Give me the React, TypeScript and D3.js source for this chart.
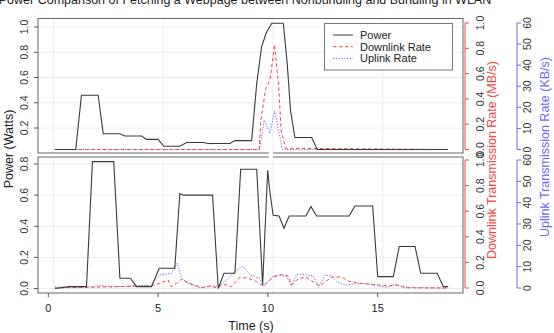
import React from "react";
import * as d3 from "d3";

// Nonbundling (upper panel)
const nbPowerTime = [0.3, 1.25, 1.51, 2.27, 2.5, 3.26, 3.49, 4.25, 4.47, 5.0, 5.26, 5.99, 6.3, 7.05, 7.28, 8.27, 8.5, 9.26, 9.49, 9.71, 9.94, 10.18, 10.7, 10.88, 11.03, 11.23, 11.99, 12.25, 18.2];
const nbPower = [0.03, 0.03, 0.46, 0.46, 0.155, 0.155, 0.137, 0.137, 0.11, 0.11, 0.055, 0.055, 0.085, 0.085, 0.077, 0.077, 0.1, 0.1, 0.55, 0.84, 0.96, 1.03, 1.03, 0.71, 0.34, 0.125, 0.125, 0.03, 0.03];
const nbDownTime = [0.3, 9.6, 9.68, 9.9, 10.1, 10.3, 10.49, 10.6, 10.8, 18.2];
const nbDown = [0, 0, 0.23, 0.48, 0.55, 0.83, 0.5, 0.154, 0.01, 0];
const nbUpTime = [0.3, 9.62, 9.71, 9.83, 10.09, 10.31, 10.51, 10.66, 18.2];
const nbUp = [0, 0, 6, 14, 7.7, 18.4, 7.7, 0, 0];

// Bundling (lower panel)
const bPowerTime = [0.3, 0.98, 1.74, 2.01, 2.98, 3.26, 3.74, 4.02, 4.7, 5.05, 5.76, 5.99, 6.14, 7.48, 7.74, 8.0, 8.5, 8.76, 9.49, 9.76, 9.99, 10.09, 10.24, 10.51, 10.73, 10.97, 11.73, 11.96, 12.22, 13.7, 13.96, 14.77, 15.0, 15.71, 15.98, 16.7, 16.96, 17.71, 17.99, 18.21];
const bPower = [0.0, 0.012, 0.012, 0.815, 0.815, 0.066, 0.066, 0.012, 0.012, 0.13, 0.13, 0.61, 0.6, 0.6, 0.0, 0.098, 0.098, 0.766, 0.766, 0.022, 0.76, 0.62, 0.47, 0.466, 0.387, 0.466, 0.466, 0.526, 0.466, 0.466, 0.53, 0.53, 0.076, 0.076, 0.27, 0.27, 0.098, 0.098, 0.012, 0.012];
const bDownTime = [0.3, 4.62, 5.08, 5.46, 5.61, 5.84, 6.07, 6.37, 6.67, 6.98, 7.36, 7.66, 7.96, 8.35, 8.72, 9.1, 9.49, 9.79, 10.24, 10.59, 10.93, 11.08, 11.31, 11.69, 11.99, 12.37, 12.67, 12.97, 13.36, 13.74, 14.19, 14.65, 15.1, 15.56, 15.94, 16.32, 18.2];
const bDown = [0, 0.016, 0.037, 0.0625, 0.01, 0.037, 0.07, 0.041, 0.023, 0.002, 0.016, 0.002, 0.031, 0.01, 0.084, 0.076, 0.049, 0.016, 0.084, 0.105, 0.094, 0.023, 0.0625, 0.088, 0.057, 0.016, 0.057, 0.088, 0.084, 0.049, 0.037, 0.031, 0.023, 0.016, 0.023, 0.002, 0];
const bUpTime = [0.3, 2.0, 2.4, 2.9, 4.62, 5.08, 5.61, 5.87, 6.07, 6.37, 6.9, 7.36, 7.81, 8.12, 8.5, 8.87, 9.18, 9.64, 9.79, 9.94, 10.24, 10.55, 10.85, 11.08, 11.31, 11.76, 12.07, 12.3, 12.6, 12.9, 13.13, 13.51, 13.96, 14.34, 14.65, 15.03, 15.41, 15.79, 16.09, 18.2];
const bUp = [0.5, 0.5, 1.2, 0.5, 1.4, 6.1, 6.9, 11.6, 4.5, 2.2, 0.1, 0.9, 0.9, 3.75, 7.6, 10.3, 6.1, 4.5, 0.9, 2.2, 5.6, 6.1, 5.3, 0.9, 6.6, 6.1, 5.6, 0.3, 6.1, 5.6, 3.0, 1.4, 1.9, 2.2, 1.7, 0.9, 0.3, 1.9, 0.3, 0];

const timeTicks = [0, 5, 10, 15];
const nbPowerTicks = [0.2, 0.4, 0.6, 0.8, 1.0];
const bPowerTicks = [0.0, 0.2, 0.4, 0.6, 0.8];
const downTicks = [0.0, 0.2, 0.4, 0.6, 0.8, 1.0];
const upTicks = [0, 10, 20, 30, 40, 50, 60];
const legendItems = ["Power", "Downlink Rate", "Uplink Rate"];

const W = 554;
const H = 333;
const FONT = "'Liberation Sans', Arial, Helvetica, sans-serif";
const LEFT = 38;
const RIGHT = 463;
const TOP1 = 18.5;
const BOT1 = 153;
const TOP2 = 157;
const BOT2 = 293;

const POWER_C = "#3a3a3a";
const DOWN_C = "#f04848";
const UP_C = "#6a6af0";

type Pt = [number, number];
const zip = (t: number[], v: number[]): Pt[] => t.map((x, i) => [x, v[i]]);

export default function App() {
  const x = d3.scaleLinear().domain([0, 15]).range([48.3, 377.7]);
  const yP1 = d3.scaleLinear().domain([0, 1]).range([153.25, 27]);
  const yR1 = d3.scaleLinear().domain([0, 1]).range([149.5, 23]);
  const yU1 = d3.scaleLinear().domain([0, 60]).range([149.5, 23]);
  const yP2 = d3.scaleLinear().domain([0, 0.8]).range([288.5, 164]);
  const yR2 = d3.scaleLinear().domain([0, 1]).range([288, 160]);
  const yU2 = d3.scaleLinear().domain([0, 60]).range([288, 160]);

  const mk = (ys: d3.ScaleLinear<number, number>) =>
    d3.line<Pt>().x((d) => x(d[0])).y((d) => ys(d[1]));

  const gridV = timeTicks.map((t) => x(t + 0.23));

  const panel = (
    top: number,
    bot: number,
    yP: d3.ScaleLinear<number, number>,
    pTicks: number[],
    yR: d3.ScaleLinear<number, number>,
    yU: d3.ScaleLinear<number, number>,
    power: Pt[],
    down: Pt[],
    up: Pt[],
    key: string
  ) => (
    <g key={key}>
      {/* light grid */}
      {gridV.map((gx, i) => (
        <line key={"gv" + i} x1={gx} x2={gx} y1={top} y2={bot} stroke="#ececec" strokeWidth={1} />
      ))}
      {pTicks.map((v, i) => (
        <line key={"gh" + i} x1={LEFT} x2={RIGHT} y1={yP(v)} y2={yP(v)} stroke="#ececec" strokeWidth={1} />
      ))}
      <path d={mk(yU)(up) || ""} fill="none" stroke={UP_C} strokeWidth={1} strokeDasharray="1.2,1.6" />
      <path d={mk(yR)(down) || ""} fill="none" stroke={DOWN_C} strokeWidth={1} strokeDasharray="3.5,2.5" />
      <path d={mk(yP)(power) || ""} fill="none" stroke={POWER_C} strokeWidth={1.1} />
      {/* box */}
      <rect x={LEFT} y={top} width={RIGHT - LEFT} height={bot - top} fill="none" stroke="#666" strokeWidth={1} />
      {/* left power axis */}
      {pTicks.map((v, i) => (
        <g key={"lt" + i}>
          <line x1={LEFT - 4} x2={LEFT} y1={yP(v)} y2={yP(v)} stroke="#555" />
          <text
            transform={`translate(28,${yP(v)}) rotate(-90)`}
            textAnchor="middle"
            fontSize={10.5}
            fill="#333"
          >
            {v.toFixed(1)}
          </text>
        </g>
      ))}
      {/* downlink axis */}
      <line x1={465} x2={465} y1={yR(0)} y2={yR(1)} stroke={DOWN_C} />
      {downTicks.map((v, i) => (
        <g key={"rt" + i}>
          <line x1={465} x2={469} y1={yR(v)} y2={yR(v)} stroke={DOWN_C} />
          <text
            transform={`translate(484,${yR(v)}) rotate(-90)`}
            textAnchor="middle"
            fontSize={10.5}
            fill="#333"
          >
            {v.toFixed(1)}
          </text>
        </g>
      ))}
      {/* uplink axis */}
      <line x1={517} x2={517} y1={yU(0)} y2={yU(60)} stroke={UP_C} />
      {upTicks.map((v, i) => (
        <g key={"ut" + i}>
          <line x1={517} x2={521} y1={yU(v)} y2={yU(v)} stroke={UP_C} />
          <text
            transform={`translate(531,${yU(v)}) rotate(-90)`}
            textAnchor="middle"
            fontSize={10.5}
            fill="#333"
          >
            {v}
          </text>
        </g>
      ))}
    </g>
  );

  return (
    <svg width={W} height={H} style={{ position: "absolute", left: 0, top: 0 }} fontFamily={FONT}>
      <rect width={W} height={H} fill="#fff" />
      <text x={245} y={3.5} textAnchor="middle" fontSize={12.5} fill="#222">
        Power Comparison of Fetching a Webpage between Nonbundling and Bundling in WLAN
      </text>
      {panel(TOP1, BOT1, yP1, nbPowerTicks, yR1, yU1, zip(nbPowerTime, nbPower), zip(nbDownTime, nbDown), zip(nbUpTime, nbUp), "p1")}
      {panel(TOP2, BOT2, yP2, bPowerTicks, yR2, yU2, zip(bPowerTime, bPower), zip(bDownTime, bDown), zip(bUpTime, bUp), "p2")}
      {/* break gap in the separator */}
      <rect x={269} y={151} width={4} height={8} fill="#fff" />
      {/* legend */}
      <rect x={324.5} y={23.5} width={128} height={46.5} fill="#fff" stroke="#777" />
      {legendItems.map((name, i) => {
        const ly = 35 + i * 11.7;
        const c = i === 0 ? POWER_C : i === 1 ? DOWN_C : UP_C;
        const dash = i === 0 ? undefined : i === 1 ? "3.5,2.5" : "1.2,1.6";
        return (
          <g key={name}>
            <line x1={333} x2={353} y1={ly} y2={ly} stroke={c} strokeWidth={1} strokeDasharray={dash} />
            <text x={360} y={ly + 3.8} fontSize={11} fill="#222">
              {name}
            </text>
          </g>
        );
      })}
      {/* time axis */}
      {timeTicks.map((t) => (
        <g key={"xt" + t}>
          <line x1={x(t)} x2={x(t)} y1={BOT2} y2={BOT2 + 4} stroke="#555" />
          <text x={x(t)} y={312} textAnchor="middle" fontSize={11} fill="#222">
            {t}
          </text>
        </g>
      ))}
      <text x={251} y={330} textAnchor="middle" fontSize={12.5} fill="#222">
        Time (s)
      </text>
      <text transform="translate(13,149) rotate(-90)" textAnchor="middle" fontSize={12.5} fill="#222">
        Power (Watts)
      </text>
      <text transform="translate(496,160) rotate(-90)" textAnchor="middle" fontSize={12.5} fill={DOWN_C}>
        Downlink Transmission Rate (MB/s)
      </text>
      <text transform="translate(549,147) rotate(-90)" textAnchor="middle" fontSize={12.5} fill={UP_C}>
        Uplink Transmission Rate (KB/s)
      </text>
    </svg>
  );
}
